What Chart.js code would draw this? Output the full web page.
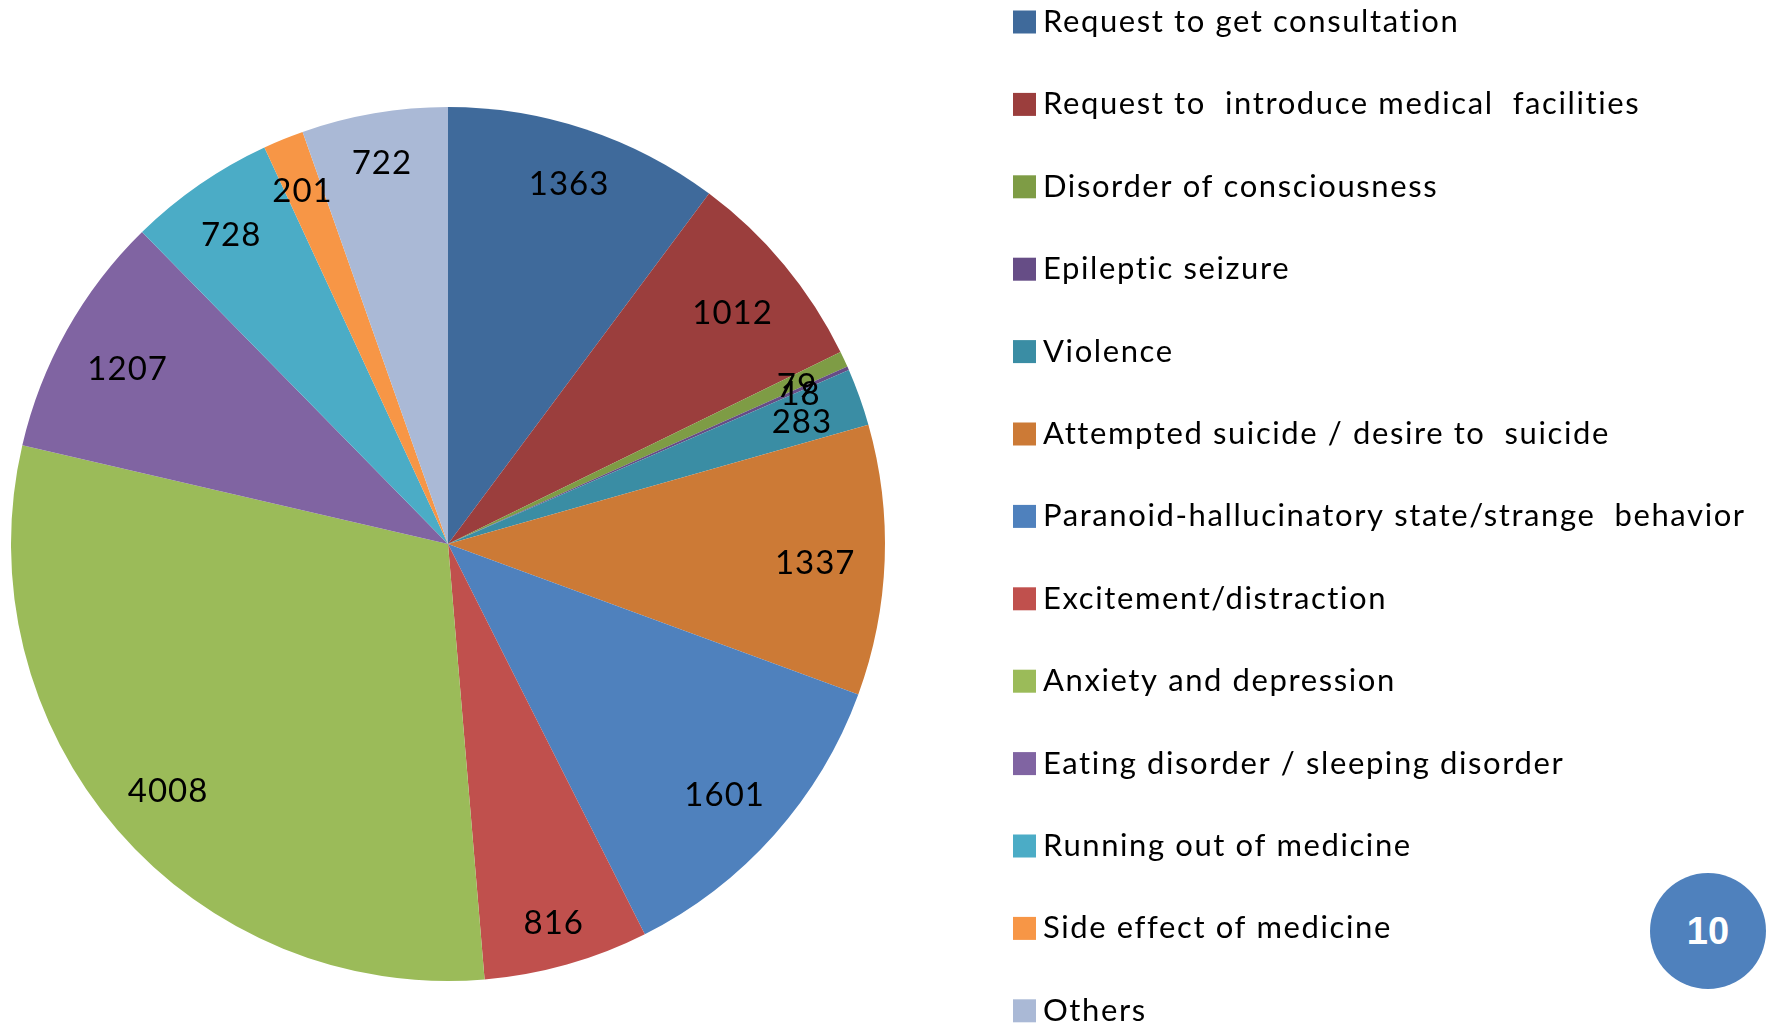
<!DOCTYPE html>
<html><head><meta charset="utf-8">
<script src="https://cdn.jsdelivr.net/npm/chart.js@4"></script>
<style>
html,body{margin:0;padding:0;background:#fff;overflow:hidden;}
#wrap{position:relative;width:1768px;height:1024px;}
#badge{position:absolute;left:1650px;top:873px;width:116px;height:116px;border-radius:50%;background:#4F81BD;color:#fff;font:bold 38px "Liberation Sans",Arial,sans-serif;display:flex;align-items:center;justify-content:center;}
</style></head>
<body>
<div id="wrap"><canvas id="c" width="1768" height="1024"></canvas><div id="badge">10</div></div>
<script>
const categories = [
  "Request to get consultation",
  "Request to  introduce medical  facilities",
  "Disorder of consciousness",
  "Epileptic seizure",
  "Violence",
  "Attempted suicide / desire to  suicide",
  "Paranoid-hallucinatory state/strange  behavior",
  "Excitement/distraction",
  "Anxiety and depression",
  "Eating disorder / sleeping disorder",
  "Running out of medicine",
  "Side effect of medicine",
  "Others"
];
const counts = [1363, 1012, 79, 18, 283, 1337, 1601, 816, 4008, 1207, 728, 201, 722];
const sliceColors = ["#3F6A9B","#9B3E3D","#7E9C45","#664D86","#3A8DA4","#CC7A36","#4F81BD","#C0504D","#9BBB59","#8064A2","#4BACC6","#F79646","#AAB9D6"];

const labelPlugin = {
  id: 'sliceLabels',
  afterDatasetsDraw(chart) {
    const ctx = chart.ctx;
    const meta = chart.getDatasetMeta(0);
    ctx.save();
    ctx.font = '33px Lato, "Open Sans", sans-serif';
    try { ctx.letterSpacing = '1px'; } catch (e) {}
    ctx.fillStyle = '#000';
    ctx.textAlign = 'center';
    ctx.textBaseline = 'alphabetic';
    const capH = 33 * 0.72;
    meta.data.forEach((arc, i) => {
      const p = arc.getProps(['x','y','startAngle','endAngle','outerRadius'], true);
      const mid = (p.startAngle + p.endAngle) / 2;
      const ux = Math.cos(mid), uy = Math.sin(mid);
      const txt = String(counts[i]);
      const w = ctx.measureText(txt).width;
      const d = p.outerRadius * 0.934 - (Math.abs(ux) * w / 2 + Math.abs(uy) * 11.5);
      ctx.fillText(txt, p.x + ux * d, p.y + uy * d + capH / 2 + 4);
    });
    ctx.restore();
  }
};

const legendPlugin = {
  id: 'sideLegend',
  afterDraw(chart) {
    const ctx = chart.ctx;
    ctx.save();
    ctx.font = '31px Lato, "Open Sans", sans-serif';
    try { ctx.letterSpacing = '1.6px'; } catch (e) {}
    ctx.textBaseline = 'alphabetic';
    ctx.textAlign = 'left';
    categories.forEach((name, i) => {
      const cy = 22 + i * 82.4;
      ctx.fillStyle = sliceColors[i];
      ctx.fillRect(1013, cy - 11.5, 23, 23);
      ctx.fillStyle = '#000';
      ctx.fillText(name, 1043, cy + 10);
    });
    ctx.restore();
  }
};

new Chart(document.getElementById('c'), {
  type: 'pie',
  data: {
    labels: categories,
    datasets: [{ data: counts, backgroundColor: sliceColors, borderWidth: 0 }]
  },
  options: {
    responsive: false,
    animation: false,
    layout: { padding: { left: 11, top: 107, right: 883, bottom: 43 } },
    plugins: { legend: { display: false }, tooltip: { enabled: false } }
  },
  plugins: [labelPlugin, legendPlugin]
});
</script>
</body></html>
